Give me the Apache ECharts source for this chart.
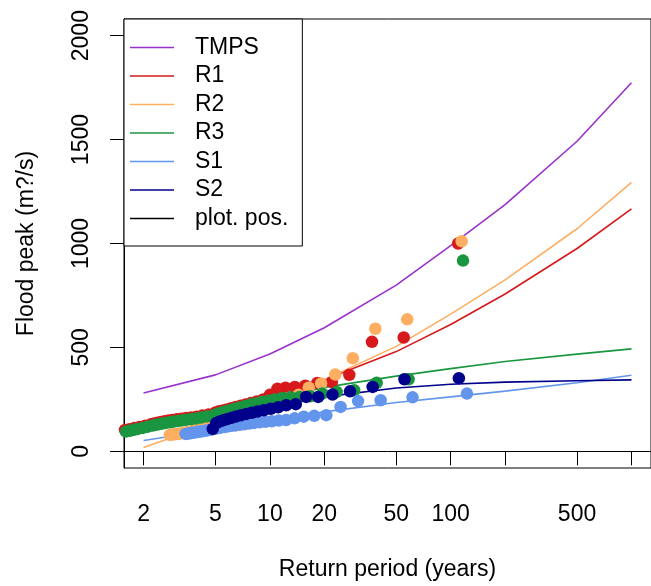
<!DOCTYPE html>
<html>
<head>
<meta charset="utf-8">
<script src="https://cdn.jsdelivr.net/npm/echarts@6/dist/echarts.min.js"></script>
<style>
  html, body { margin: 0; padding: 0; background: #fff; }
  #chart { width: 651px; height: 586px; }
</style>
</head>
<body>
<div id="chart"></div>
<script>
// return periods (years) at which the fitted curves are evaluated
var retT = [2, 5, 10, 20, 50, 100, 200, 500, 1000];
// fitted flood peaks per method
var qTMPS = [281, 368, 468, 595, 800, 990, 1187, 1492, 1773];
var qR1 = [125, 195, 265, 345, 480, 610, 757, 976, 1167];
var qR2 = [19, 140, 235, 345, 505, 660, 825, 1071, 1294];
var qR3 = [115, 185, 240, 308, 362, 398, 432, 468, 493];
var qS1 = [52, 105, 150, 190, 235, 262, 290, 330, 366];
var qS2 = [110, 175, 230, 262, 305, 323, 333, 340, 344];

// observed peaks at their plotting positions
var r1T = [110, 55, 36.7, 27.5, 22, 18.3, 15.7, 13.75, 12.2, 11, 10, 9.17, 8.46, 7.86, 7.33, 6.88, 6.47, 6.11, 5.79, 5.5, 5.24, 5, 4.58, 4.23, 3.93, 3.67, 3.44, 3.24, 3.06, 2.89, 2.75, 2.62, 2.5, 2.39, 2.29, 2.2, 2.04, 1.9, 1.78, 1.67, 1.58, 1.53];
var r1Q = [1000, 548, 527, 368, 333, 329, 316, 310, 306, 301, 272, 250, 240, 233, 226, 220, 214, 208, 202, 197, 193, 187, 177, 172, 167, 163, 160, 157, 154, 151, 148, 145, 141, 138, 134, 131, 123, 117, 112, 107, 103, 99];

var r2T = [115, 57.5, 38.3, 28.75, 23, 19.2, 16.4, 14.4, 12.8, 11.5, 10.45, 9.58, 8.85, 8.21, 7.67, 7.19, 6.76, 6.39, 6.05, 5.75, 5.48, 5.23, 5, 4.79, 4.6, 4.42, 4.26, 4.11, 3.97, 3.83, 3.71, 3.59, 3.48, 3.38, 3.29, 3.19, 3.11, 3.03, 2.95, 2.88, 2.8];
var r2Q = [1011, 635, 590, 448, 370, 327, 306, 272, 258, 245, 232, 220, 208, 197, 187, 178, 170, 162, 155, 148, 142, 136, 130, 125, 120, 115, 111, 107, 103, 100, 97, 94, 92, 90, 88, 86, 84, 83, 82, 81, 79];

var r3T = [117, 58.5, 39, 29.25, 23.4, 19.5, 16.7, 14.6, 13, 11.7, 10.6, 9.75, 9, 8.36, 7.8, 7.3, 6.9, 6.5, 6.15, 5.85, 5.57, 5.32, 5.09, 4.88, 4.5, 4.18, 3.9, 3.66, 3.44, 3.25, 3.08, 2.93, 2.79, 2.66, 2.54, 2.44, 2.34, 2.25, 2.1, 1.98, 1.86, 1.77, 1.68, 1.6, 1.54];
var r3Q = [918, 347, 330, 294, 286, 278, 265, 262, 260, 257, 250, 244, 238, 230, 225, 218, 212, 206, 200, 195, 190, 186, 180, 174, 168, 163, 158, 155, 152, 149, 146, 143, 140, 137, 134, 131, 128, 124, 118, 113, 108, 104, 99, 95, 91];

var s1T = [123, 61.5, 41, 30.75, 24.6, 20.5, 17.6, 15.4, 13.7, 12.3, 11.2, 10.25, 9.46, 8.79, 8.2, 7.69, 7.24, 6.83, 6.47, 6.15, 5.86, 5.59, 5.35, 5.13, 4.92, 4.73, 4.56, 4.39, 4.24, 4.1, 3.97, 3.84, 3.73, 3.62, 3.51, 3.42];
var s1Q = [278, 260, 246, 242, 214, 174, 171, 167, 159, 151, 148, 145, 142, 140, 137, 134, 131, 128, 125, 123, 120, 117, 114, 111, 108, 105, 102, 99, 97, 95, 93, 91, 89, 87, 85, 84];

var s2T = [111, 55.5, 37, 27.75, 22.2, 18.5, 15.86, 13.9, 12.3, 11.1, 10.1, 9.25, 8.54, 7.93, 7.4, 6.94, 6.53, 6.17, 5.84, 5.55, 5.29, 5.05, 4.83];
var s2Q = [352, 347, 310, 289, 273, 262, 262, 227, 222, 212, 205, 198, 192, 186, 180, 174, 168, 162, 156, 150, 144, 136, 108];

// axis ticks
var xTickVals = [2, 5, 10, 20, 50, 100, 200, 500, 1000];
var xLabelVals = [2, 5, 10, 20, 50, 100, 500];
var yTickVals = [0, 500, 1000, 1500, 2000];

var colors = {
  TMPS: '#9932CC',
  R1: '#D7191C',
  R2: '#FDAE61',
  R3: '#1A9641',
  S1: '#6495ED',
  S2: '#00008B'
};
var font = 'Liberation Sans, Arial, Helvetica, sans-serif';

function log10(v) { return Math.log(v) / Math.LN10; }
function pairs(ts, qs) {
  return ts.map(function (t, i) { return [log10(t), qs[i]]; });
}

function curve(name, qs) {
  return {
    name: name,
    type: 'line',
    z: 2,
    data: pairs(retT, qs),
    symbol: 'none',
    color: colors[name],
    lineStyle: { width: 1.6, color: colors[name] },
    silent: true
  };
}
// dots sit on top of the fitted curves
function points(name, ts, qs) {
  return {
    name: name + ' obs',
    type: 'scatter',
    z: 3,
    data: pairs(ts, qs),
    symbol: 'circle',
    symbolSize: 12.5,
    itemStyle: { color: colors[name], opacity: 1 },
    clip: true,
    silent: true
  };
}

var chart = echarts.init(document.getElementById('chart'), null, { renderer: 'canvas' });

chart.setOption({
  animation: false,
  backgroundColor: '#fff',
  textStyle: { fontFamily: font },
  grid: {
    left: 124, top: 19, width: 536, height: 452,
    show: true, borderColor: '#000', borderWidth: 1,
    containLabel: false
  },
  legend: {
    orient: 'vertical',
    left: 124, top: 19,
    z: 5,
    padding: [17, 14, 16, 6],
    itemGap: 5.5,
    itemWidth: 44,
    itemHeight: 1.6,
    icon: 'rect',
    backgroundColor: '#fff',
    borderColor: '#000',
    borderWidth: 1,
    borderRadius: 0,
    selectedMode: false,
    data: ['TMPS', 'R1', 'R2', 'R3', 'S1', 'S2', 'plot. pos.'],
    textStyle: {
      fontFamily: font, fontSize: 23, color: '#000',
      padding: [0, 0, 0, 16]
    }
  },
  xAxis: {
    type: 'value',
    min: 0.193, max: 3.108,
    name: 'Return period (years)',
    nameLocation: 'middle',
    nameGap: 90,
    nameTextStyle: { fontFamily: font, fontSize: 23, color: '#000' },
    axisLine: { show: true, lineStyle: { color: '#000', width: 1 } },
    axisTick: {
      show: true, inside: false, length: 14,
      customValues: xTickVals.map(log10),
      lineStyle: { color: '#000', width: 1 }
    },
    axisLabel: {
      customValues: xLabelVals.map(log10),
      margin: 35,
      fontFamily: font, fontSize: 23, color: '#000',
      formatter: function (v) { return String(Math.round(Math.pow(10, v))); }
    },
    splitLine: { show: false }
  },
  yAxis: {
    type: 'value',
    min: -80, max: 2080,
    name: 'Flood peak (m?/s)',
    nameLocation: 'middle',
    nameGap: 86,
    nameRotate: 90,
    nameTextStyle: { fontFamily: font, fontSize: 23, color: '#000' },
    axisLine: { show: true, lineStyle: { color: '#000', width: 1 } },
    axisTick: {
      show: true, inside: false, length: 14,
      customValues: yTickVals,
      lineStyle: { color: '#000', width: 1 }
    },
    axisLabel: {
      customValues: yTickVals,
      rotate: 90,
      margin: 31,
      fontFamily: font, fontSize: 23, color: '#000',
      formatter: function (v) { return String(v); }
    },
    splitLine: { show: false }
  },
  series: [
    curve('TMPS', qTMPS),
    curve('R1', qR1),
    curve('R2', qR2),
    curve('R3', qR3),
    curve('S1', qS1),
    curve('S2', qS2),
    {
      name: 'plot. pos.',
      type: 'line',
      data: [],
      symbol: 'none',
      color: '#000',
      lineStyle: { width: 1.6, color: '#000' }
    },
    points('R1', r1T, r1Q),
    points('R2', r2T, r2Q),
    points('R3', r3T, r3Q),
    points('S1', s1T, s1Q),
    points('S2', s2T, s2Q)
  ]
});
</script>
</body>
</html>
